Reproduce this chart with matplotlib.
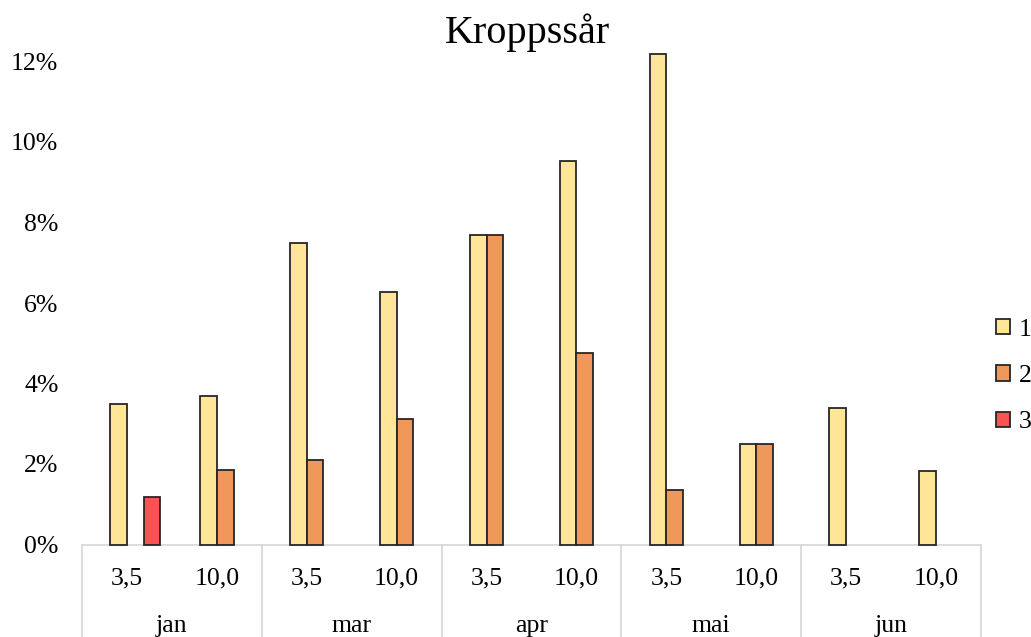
import matplotlib
matplotlib.use("Agg")
import matplotlib.pyplot as plt
from matplotlib.patches import Patch
import numpy as np

months = ["jan", "mar", "apr", "mai", "jun"]
sub_labels = ["3,5", "10,0"]
series_names = ["1", "2", "3"]
s1 = [3.49, 3.70, 7.48, 6.27, 7.70, 9.52, 12.18, 2.49, 3.39, 1.82]
s2 = [0.0, 1.85, 2.11, 3.11, 7.70, 4.77, 1.36, 2.49, 0.0, 0.0]
s3 = [1.17, 0.0, 0.0, 0.0, 0.0, 0.0, 0.0, 0.0, 0.0, 0.0]
yticks = [0, 2, 4, 6, 8, 10, 12]
colors = ["#FFE597", "#F0975A", "#FA5252"]

plt.rcParams['font.family'] = ['Liberation Serif', 'DejaVu Serif']

W, H = 1031, 637
fig = plt.figure(figsize=(W / 100, H / 100), dpi=100)
left, right, bottom_px, top_px = 82, 981, 544.5, 61.5
ax = fig.add_axes([left / W, 1 - bottom_px / H, (right - left) / W, (bottom_px - top_px) / H])

n = len(s1)
x = np.arange(n) + 0.5
w = 16.7 / 90
offsets = [-0.5 * w, 0.5 * w, 1.5 * w]
for vals, off, c, name in zip([s1, s2, s3], offsets, colors, series_names):
    v = np.array(vals)
    mask = v > 0
    ax.bar(x[mask] + off, v[mask], width=w, color=c, edgecolor="#262626",
           linewidth=1.3, clip_on=False, zorder=3)

ax.set_xlim(0, n)
ax.set_ylim(0, 12)
ax.set_yticks(yticks)
ax.set_yticklabels([f"{t}%" for t in yticks])
ax.tick_params(axis='y', length=0, pad=17, labelsize=18.5)
ax.set_xticks([])
for sp in ["top", "right", "left"]:
    ax.spines[sp].set_visible(False)
ax.spines["bottom"].set_color("#d9d9d9")
ax.spines["bottom"].set_linewidth(1.3)

tr = ax.get_xaxis_transform()
depth = -(H - bottom_px) / (bottom_px - top_px)
for b in range(0, n + 1, 2):
    ax.plot([b, b], [0, depth], color="#d9d9d9", lw=1.3, transform=tr, clip_on=False)

sub_y = -(578 - bottom_px) / (bottom_px - top_px)
mon_y = -(626 - bottom_px) / (bottom_px - top_px)
for i in range(n):
    ax.text(x[i], sub_y, sub_labels[i % 2], transform=tr, ha='center', va='center', fontsize=18.5)
for j, m in enumerate(months):
    ax.text(2 * j + 1, mon_y, m, transform=tr, ha='center', va='center', fontsize=18.5)

fig.text(527 / W, 1 - 43 / H, "Kroppssår", ha='center', va='baseline', fontsize=29)

handles = [Patch(facecolor=c, edgecolor="#262626", linewidth=1.3) for c in colors]
fig.legend(handles, series_names, loc='center left', bbox_to_anchor=(996 / W, 1 - 376 / H),
           frameon=False, fontsize=18.5, handlelength=0.55, handleheight=0.55,
           handletextpad=0.35, labelspacing=0.95, borderpad=0, borderaxespad=0)

fig.savefig("out.png", dpi=100)
